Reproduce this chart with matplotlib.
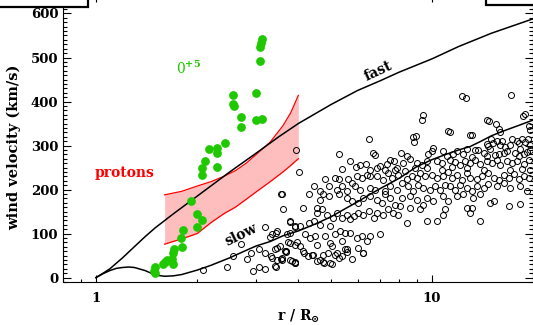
import numpy as np
import matplotlib
matplotlib.use("Agg")
import matplotlib.pyplot as plt
from matplotlib.patches import Rectangle
from matplotlib.ticker import MultipleLocator, LogLocator, NullFormatter, FixedLocator

# ---------------- data ----------------
fast_r = [1.0, 1.05, 1.1, 1.2, 1.3, 1.4, 1.5, 1.7, 2.0, 2.5, 3.0, 3.5, 4.0, 5.0, 6.0, 7.0, 8.0, 10.0, 12.0, 15.0, 20.0]
fast_v = [0, 10, 20, 45, 70, 93, 113, 145, 185, 240, 283, 320, 350, 393, 425, 447, 467, 497, 525, 555, 588]

slow_r = [1.0, 1.05, 1.1, 1.15, 1.2, 1.25, 1.3, 1.4, 1.5, 1.6, 1.7, 1.8, 2.0, 2.2, 2.5, 2.8, 3.0, 3.3, 3.6, 4.0,
          4.5, 5.0, 5.5, 6.0, 6.5, 7.0, 8.0, 9.0, 10.0, 11.0, 12.0, 13.0, 14.0, 15.0, 16.3, 18.0, 20.0]
slow_v = [0, 9, 16, 21, 23, 24, 23, 16, 6, 3, 4, 7, 17, 28, 45, 62, 72, 82, 95, 106,
          122, 138, 156, 172, 188, 202, 226, 252, 268, 280, 290, 298, 310, 322, 333, 345, 358]

band_r = [1.6, 1.8, 2.0, 2.2, 2.4, 2.6, 2.8, 3.0, 3.3, 3.6, 3.8, 4.0]
band_hi = [188, 196, 208, 218, 230, 243, 260, 280, 308, 345, 375, 414]
band_lo = [76, 88, 100, 125, 145, 160, 178, 195, 218, 240, 255, 270]

o5_r = [3.12, 3.10, 3.08, 3.08, 2.99, 2.56, 2.56, 2.58, 2.70, 2.70, 2.99, 3.12, 2.42, 2.29, 2.17, 2.29,
        2.11, 2.29, 2.07, 2.07, 1.92, 2.00, 2.07, 2.00, 1.82, 1.79, 1.80, 1.71, 1.70, 1.68, 1.70, 1.60,
        1.58, 1.63, 1.50, 1.49, 1.50]
o5_v = [543, 534, 523, 491, 420, 414, 395, 389, 364, 343, 357, 361, 305, 295, 293, 284,
        266, 252, 248, 234, 173, 145, 130, 114, 107, 91, 70, 64, 55, 43, 32, 36,
        30, 41, 25, 16, 11]

# open circles (slow wind measurements), (r, v) pairs grouped by height
pts_top = [(12.26, 412), (12.63, 408), (17.17, 414), (9.43, 369), (9.32, 359), (14.56, 357), (14.79, 356),
           (18.95, 372), (18.65, 368), (15.48, 348), (15.77, 338), (15.95, 330), (11.19, 333), (11.32, 331),
           (12.98, 323), (13.13, 323), (19.38, 344), (19.60, 336), (3.94, 291), (4.02, 241), (3.55, 189)]
pts_upper = [(8.80, 320), (8.94, 321), (6.50, 316), (8.84, 308), (14.96, 315), (15.17, 306), (15.59, 310),
             (16.13, 311), (17.28, 314), (17.89, 311), (18.10, 305), (18.51, 316), (18.95, 309), (19.25, 314),
             (19.60, 302), (14.56, 304), (15.95, 301), (16.51, 297), (17.09, 302), (14.72, 298),
             (10.09, 295), (9.98, 287), (9.75, 281), (6.68, 284), (6.78, 279), (5.27, 280), (8.08, 283),
             (8.45, 277), (11.85, 288), (12.69, 292), (13.43, 289), (13.74, 290), (14.23, 283), (12.40, 280),
             (13.13, 275), (16.70, 287), (17.68, 283), (18.30, 292), (19.16, 286), (19.60, 291), (18.10, 276),
             (18.73, 280), (16.32, 282), (15.35, 279), (14.89, 292), (11.58, 280), (11.06, 276), (10.81, 287)]
pts_mid1 = [(5.71, 264), (5.94, 252), (6.11, 256), (6.37, 258), (7.00, 253), (7.25, 245), (7.33, 258),
            (7.50, 268), (7.71, 264), (8.22, 261), (7.85, 249), (8.60, 269), (9.00, 261), (9.32, 256),
            (9.64, 265), (10.33, 264), (10.68, 260), (11.32, 268), (11.71, 263), (12.12, 256), (12.54, 265),
            (12.98, 261), (13.43, 268), (13.90, 257), (14.56, 264), (15.06, 260), (15.59, 268), (15.95, 256),
            (16.70, 265), (17.28, 261), (17.89, 264), (18.73, 257), (19.38, 268), (14.56, 276), (15.77, 280),
            (11.45, 252)]
pts_mid2 = [(5.39, 247), (4.80, 224), (5.15, 226), (5.27, 223), (5.61, 225), (5.97, 230), (6.18, 227),
            (6.40, 234), (6.54, 230), (6.85, 231), (7.16, 222), (7.41, 238), (7.58, 227), (7.94, 234),
            (8.31, 242), (8.41, 223), (8.70, 230), (9.00, 227), (9.21, 238), (9.53, 231), (9.98, 234),
            (10.33, 226), (10.81, 230), (11.19, 239), (11.45, 227), (11.85, 234), (12.26, 222), (12.69, 238),
            (12.98, 227), (13.59, 223), (14.06, 231), (14.72, 238), (15.24, 227), (15.77, 222), (16.32, 234),
            (16.89, 227), (17.48, 235), (18.10, 223), (18.73, 230), (19.38, 226), (19.60, 245), (18.51, 246),
            (17.09, 244), (14.23, 245), (12.69, 249), (10.68, 245), (9.64, 249), (8.90, 250), (7.76, 245),
            (6.85, 249), (6.54, 244)]
pts_mid3 = [(4.92, 209), (5.39, 208), (5.78, 215), (5.90, 209), (6.11, 200), (6.54, 204), (6.78, 199),
            (7.25, 196), (7.50, 208), (7.85, 200), (8.12, 215), (8.50, 208), (8.80, 196), (9.10, 211),
            (9.43, 204), (9.87, 200), (10.21, 208), (10.56, 199), (10.93, 211), (11.32, 207), (11.71, 200),
            (12.12, 211), (12.69, 204), (13.13, 196), (13.59, 208), (14.23, 203), (14.72, 212), (15.59, 208),
            (16.32, 215), (17.09, 204), (18.30, 208), (19.16, 196), (5.58, 196), (5.21, 200), (4.65, 196),
            (4.44, 208), (4.29, 189), (4.75, 189)]
pts_low1 = [(3.57, 189), (4.14, 158), (4.54, 158), (4.65, 177), (4.92, 185), (5.27, 189), (5.58, 181),
            (5.78, 173), (6.04, 170), (6.25, 181), (6.54, 185), (6.85, 177), (7.08, 170), (7.25, 189),
            (7.50, 181), (7.76, 166), (8.12, 181), (8.60, 185), (9.00, 177), (9.43, 166), (9.64, 181),
            (10.09, 173), (10.81, 185), (11.19, 173), (11.85, 185), (12.40, 189), (13.28, 181), (13.90, 189),
            (14.89, 170), (15.24, 173), (16.89, 162), (18.30, 167), (12.69, 158), (13.13, 158), (12.98, 147),
            (10.81, 143)]
pts_low2 = [(3.61, 155), (3.78, 128), (3.92, 117), (4.05, 117), (4.29, 124), (4.44, 128), (4.54, 147),
            (4.70, 155), (4.86, 143), (5.09, 136), (5.21, 147), (5.39, 136), (5.58, 143), (5.71, 132),
            (5.84, 139), (6.04, 147), (6.25, 143), (6.47, 151), (6.70, 136), (6.85, 147), (7.16, 143),
            (7.41, 155), (7.67, 147), (7.94, 143), (8.41, 124), (9.64, 128), (10.33, 128), (13.90, 128),
            (8.60, 158), (8.03, 162), (9.21, 155), (10.93, 155)]
pts_low3 = [(3.33, 98), (3.45, 105), (3.70, 98), (3.78, 102), (4.19, 98), (4.34, 90), (4.49, 94),
            (4.65, 120), (4.80, 94), (4.98, 117), (5.15, 98), (5.33, 105), (5.52, 102), (5.71, 102),
            (5.97, 90), (6.18, 94), (6.40, 83), (6.54, 94), (7.00, 100), (5.39, 83), (4.98, 79)]
pts_bottom = [(3.41, 64), (3.53, 71), (3.65, 60), (3.78, 79), (3.92, 75), (4.05, 71), (4.14, 60),
              (4.39, 52), (4.54, 75), (4.65, 41), (4.75, 52), (4.98, 33), (5.04, 71), (5.21, 56),
              (5.39, 48), (5.58, 64), (5.78, 42), (6.04, 67), (6.25, 56), (3.45, 41), (3.57, 45),
              (3.82, 37), (3.92, 33), (4.54, 37), (4.75, 35), (3.41, 26), (3.33, 45),
              (4.16, 57), (4.27, 48), (4.43, 52), (4.77, 34), (5.03, 32), (4.90, 55), (5.13, 52),
              (5.28, 45), (5.50, 64), (5.60, 59), (6.23, 55)]
pts_left = [(2.08, 18), (2.45, 25), (2.56, 48), (2.70, 77), (2.81, 43), (2.93, 14), (2.90, 57), (3.06, 25),
            (3.06, 64), (3.18, 20), (3.18, 57), (3.18, 116), (3.29, 93), (3.43, 102), (3.31, 48), (3.43, 25),
            (3.55, 43), (3.67, 59), (3.78, 39), (3.90, 34), (3.78, 127), (3.91, 114), (3.72, 80), (3.97, 80),
            (3.45, 68), (3.68, 61), (3.57, 41), (3.91, 36)]

W, H = 533, 325
plt.rcParams["font.family"] = ["DejaVu Serif"]
plt.rcParams["font.weight"] = "bold"
plt.rcParams["mathtext.fontset"] = "dejavuserif"

fig = plt.figure(figsize=(W / 100, H / 100), dpi=100)
ax = fig.add_axes([62.5 / W, (H - 282) / H, (532.5 - 62.5) / W, (282 + 5) / H])

ax.fill_between(band_r, band_lo, band_hi, color="#ffbebe", lw=0, zorder=1)
ax.plot(band_r, band_hi, color="red", lw=0.9, zorder=2)
ax.plot(band_r, band_lo, color="red", lw=0.9, zorder=2)

ax.plot(fast_r, fast_v, color="black", lw=1.1, zorder=3)
ax.plot(slow_r, slow_v, color="black", lw=1.1, zorder=3)

groups = [pts_top, pts_upper, pts_mid1, pts_mid2, pts_mid3, pts_low1, pts_low2, pts_low3, pts_bottom, pts_left]
all_pts = [p for g in groups for p in g]
ax.plot([p[0] for p in all_pts], [p[1] for p in all_pts], linestyle="none", marker="o", ms=4.3,
        mfc="none", mec="black", mew=0.7, zorder=4)

ax.plot(o5_r, o5_v, linestyle="none", marker="o", ms=6.3, mfc="#1fc800", mec="#1fc800", mew=0, zorder=5)

ax.set_xscale("log")
ax.set_xlim(0.795, 19.9)
ax.set_ylim(-10, 642)
ax.xaxis.set_major_locator(FixedLocator([1, 10]))
ax.set_xticklabels(["1", "10"])
ax.xaxis.set_minor_locator(LogLocator(base=10, subs=np.arange(2, 10)))
ax.xaxis.set_minor_formatter(NullFormatter())
ax.yaxis.set_major_locator(MultipleLocator(100))
ax.yaxis.set_minor_locator(MultipleLocator(10))
ax.tick_params(which="both", direction="in", right=True, top=True, labelsize=9.5, width=0.8)
ax.tick_params(axis="y", which="major", length=6, pad=3)
ax.tick_params(axis="y", which="minor", length=3)
ax.tick_params(axis="x", which="major", length=5, pad=7)
ax.tick_params(axis="x", which="minor", length=2.5)
for s in ax.spines.values():
    s.set_linewidth(0.8)

fig.text(14 / W, 1 - 147 / H, "wind velocity (km/s)", rotation=90, ha="center", va="center", fontsize=10.5)
fig.text(298 / W, 1 - 316 / H, r"r / R$_{\odot}$", ha="center", va="center", fontsize=10)
fig.text(125 / W, 1 - 173 / H, "protons", color="red", ha="center", va="center", fontsize=10)
fig.text(189 / W, 1 - 68 / H, r"0$^{+5}$", color="#1fc800", ha="center", va="center", fontsize=10,
         fontweight="normal")
fig.text(378 / W, 1 - 71 / H, "fast", rotation=25, ha="center", va="center", fontsize=10)
fig.text(241 / W, 1 - 235 / H, "slow", rotation=26, ha="center", va="center", fontsize=10)

fig.add_artist(Rectangle((-5 / W, (H - 7) / H), 93 / W, 20 / H, transform=fig.transFigure,
                         facecolor="white", edgecolor="black", lw=1.6, zorder=10))
fig.add_artist(Rectangle((486 / W, (H - 5) / H), 60 / W, 20 / H, transform=fig.transFigure,
                         facecolor="white", edgecolor="black", lw=1.6, zorder=10))

fig.savefig("out.png", dpi=100)
